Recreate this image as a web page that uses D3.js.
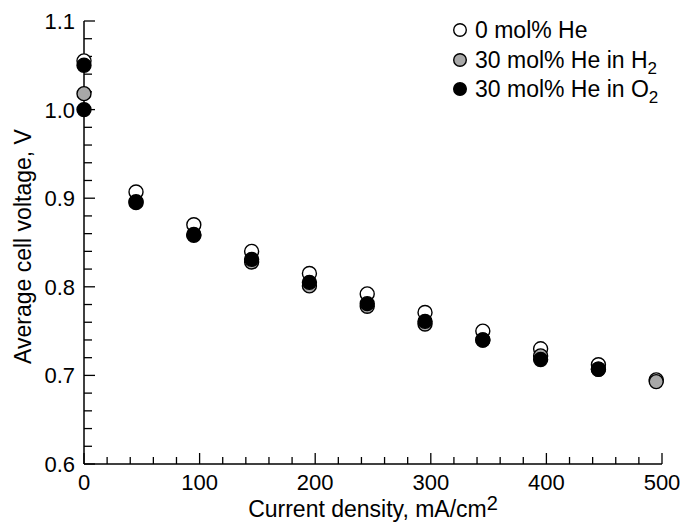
<!DOCTYPE html>
<html>
<head>
<meta charset="utf-8">
<script src="https://cdn.jsdelivr.net/npm/d3@7/dist/d3.min.js"></script>
<style>
  html, body { margin: 0; padding: 0; background: #fff; }
  svg { display: block; }
  text { font-family: "Liberation Sans", Arial, Helvetica, sans-serif; fill: #000; }
</style>
</head>
<body>
<svg id="chart" width="683" height="523"></svg>
<script>
// ---- data ----
const currentDensity = [0, 45, 95, 145, 195, 245, 295, 345, 395, 445, 495];
const voltageHe0 = [1.055, 0.907, 0.870, 0.840, 0.815, 0.792, 0.771, 0.750, 0.730, 0.712, 0.695];
const voltageHeH2 = [1.018, 0.895, 0.858, 0.828, 0.801, 0.778, 0.758, 0.740, 0.722, 0.707, 0.693];
const currentDensityO2 = [0, 0, 45, 95, 145, 195, 245, 295, 345, 395, 445];
const voltageHeO2 = [1.050, 1.000, 0.896, 0.859, 0.831, 0.805, 0.781, 0.761, 0.740, 0.718, 0.707];
const xTicks = [0, 100, 200, 300, 400, 500];
const yTicks = [0.6, 0.7, 0.8, 0.9, 1.0, 1.1];
const seriesNames = ["0 mol% He", "30 mol% He in H", "30 mol% He in O"];
const seriesSubs = ["", "2", "2"];
const seriesFills = ["#ffffff", "#a8a8a8", "#000000"];

// ---- layout ----
const svg = d3.select("#chart");
const x = d3.scaleLinear().domain([0, 500]).range([84, 662]);
const y = d3.scaleLinear().domain([0.6, 1.1]).range([464, 21]);

// minor ticks
const xMinor = d3.range(0, 501, 20).filter(v => v % 100 !== 0);
const yMinor = d3.range(0, 26).map(i => +(0.6 + i * 0.02).toFixed(2))
  .filter(v => Math.abs(v * 10 - Math.round(v * 10)) > 1e-6);

// x axis
const gx = svg.append("g").attr("transform", `translate(0,${y(0.6)})`);
gx.append("line").attr("x1", x(0)).attr("x2", x(500)).attr("stroke", "#000").attr("stroke-width", 1.5);
gx.selectAll(".maj").data(xTicks).join("line")
  .attr("x1", d => x(d)).attr("x2", d => x(d)).attr("y1", 0).attr("y2", -11)
  .attr("stroke", "#000").attr("stroke-width", 1.3);
gx.selectAll(".min").data(xMinor).join("line")
  .attr("x1", d => x(d)).attr("x2", d => x(d)).attr("y1", 0).attr("y2", -7)
  .attr("stroke", "#000").attr("stroke-width", 1.3);
gx.selectAll("text").data(xTicks).join("text")
  .attr("x", d => x(d)).attr("y", 26).attr("text-anchor", "middle")
  .attr("font-size", 22).text(d => d);

// y axis
const gy = svg.append("g").attr("transform", `translate(${x(0)},0)`);
gy.append("line").attr("y1", y(0.6)).attr("y2", y(1.1)).attr("stroke", "#000").attr("stroke-width", 1.5);
gy.selectAll(".maj").data(yTicks).join("line")
  .attr("y1", d => y(d)).attr("y2", d => y(d)).attr("x1", 0).attr("x2", 11)
  .attr("stroke", "#000").attr("stroke-width", 1.3);
gy.selectAll(".min").data(yMinor).join("line")
  .attr("y1", d => y(d)).attr("y2", d => y(d)).attr("x1", 0).attr("x2", 8)
  .attr("stroke", "#000").attr("stroke-width", 1.3);
gy.selectAll("text").data(yTicks).join("text")
  .attr("x", -9).attr("y", d => y(d)).attr("dy", "0.36em").attr("text-anchor", "end")
  .attr("font-size", 22).text(d => d3.format(".1f")(d));

// axis titles
const xt = svg.append("text").attr("x", (x(0) + x(500)) / 2).attr("y", 517)
  .attr("text-anchor", "middle").attr("font-size", 23);
xt.append("tspan").text("Current density, mA/cm");
xt.append("tspan").attr("dy", -7).attr("font-size", 20).text("2");

svg.append("text").attr("transform", `translate(31,${(y(0.6) + y(1.1)) / 2 + 4}) rotate(-90)`)
  .attr("text-anchor", "middle").attr("font-size", 23).text("Average cell voltage, V");

// points (white, then gray, then black on top)
const r = 7;
function drawSeries(xs, ys, fill) {
  svg.append("g").selectAll("circle").data(xs.map((d, i) => [d, ys[i]])).join("circle")
    .attr("cx", d => x(d[0])).attr("cy", d => y(d[1])).attr("r", r)
    .attr("fill", fill).attr("stroke", "#000").attr("stroke-width", 1.4);
}
drawSeries(currentDensity, voltageHe0, seriesFills[0]);
drawSeries(currentDensity, voltageHeH2, seriesFills[1]);
drawSeries(currentDensityO2, voltageHeO2, seriesFills[2]);

// legend
const legendY = [30, 60, 89];
const lg = svg.append("g");
seriesNames.forEach((name, i) => {
  lg.append("circle").attr("cx", 460).attr("cy", legendY[i]).attr("r", 6.3)
    .attr("fill", seriesFills[i]).attr("stroke", "#000").attr("stroke-width", 1.4);
  const t = lg.append("text").attr("x", 475).attr("y", legendY[i]).attr("dy", "0.36em")
    .attr("font-size", 23);
  t.append("tspan").text(name);
  if (seriesSubs[i]) t.append("tspan").attr("dy", 6).attr("font-size", 17).text(seriesSubs[i]);
});
</script>
</body>
</html>
